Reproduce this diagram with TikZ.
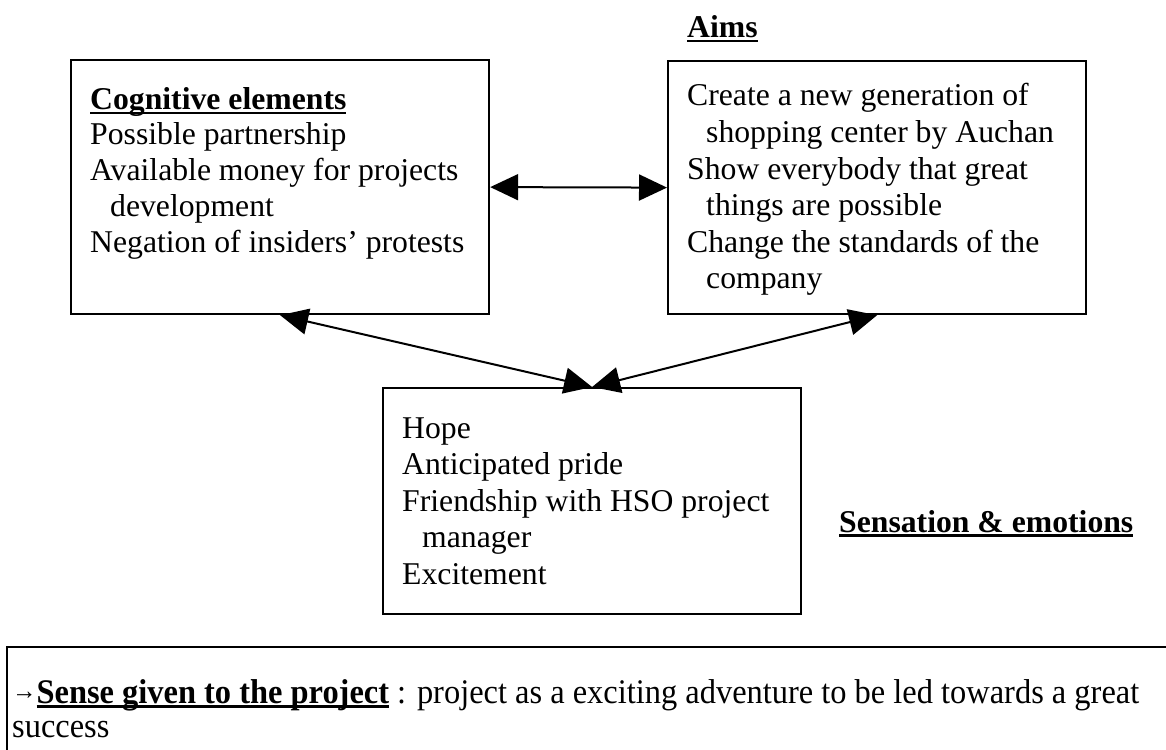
\documentclass[tikz,border=0pt]{standalone}
\usepackage{fontspec}
\setmainfont{Liberation Serif}
\newfontfamily\condserif{Liberation Serif}[FakeStretch=0.94]
\usetikzlibrary{arrows.meta}
\newcommand{\myul}[1]{\setbox0\hbox{#1}\rlap{\rule[-4.5pt]{\wd0}{2.2pt}}\box0\relax}
\begin{document}
\begin{tikzpicture}[x=1pt,y=-1pt,
  txt/.style={anchor=base west, inner sep=0pt, font=\fontsize{31.7}{36.5}\selectfont},
  btxt/.style={anchor=base west, inner sep=0pt, font=\condserif\fontsize{34.5}{36}\selectfont},
  boxst/.style={draw, line width=2.2pt, inner sep=0pt, anchor=north west},
  arr/.style={line width=2pt, {Triangle[length=28pt,width=26pt]}-{Triangle[length=28pt,width=26pt]}}]
\useasboundingbox (0,0) rectangle (1166,749);
\clip (0,0) rectangle (1166,749);
% boxes
\node[boxst, minimum width=418pt, minimum height=254pt] (b1) at (70,59) {};
\node[boxst, minimum width=418pt, minimum height=253pt] (b2) at (667,60) {};
\node[boxst, minimum width=418pt, minimum height=226pt] (b3) at (382,387) {};
\node[boxst, minimum width=1200pt, minimum height=160pt] (b4) at (6,646) {};
% box 1 text
\node[txt] (c0) at (90,110) {\myul{\textbf{Cognitive elements}}};
\node[txt] (c1) at (90,144) {Possible partnership};
\node[txt] (c2) at (90,180) {Available money for projects};
\node[txt] (c3) at (110,216) {development};
\node[txt] (c4) at (90,252) {Negation of insiders’ protests};
% aims
\node[txt] (a0) at (687,38) {\myul{\textbf{Aims}}};
\node[txt] (a1) at (687,106) {Create a new generation of};
\node[txt] (a2) at (706,142.5) {shopping center by Auchan};
\node[txt] (a3) at (687,179) {Show everybody that great};
\node[txt] (a4) at (706,215.5) {things are possible};
\node[txt] (a5) at (687,252) {Change the standards of the};
\node[txt] (a6) at (706,288.5) {company};
% box 3 text
\node[txt] (e1) at (402,438) {Hope};
\node[txt] (e2) at (402,474.5) {Anticipated pride};
\node[txt] (e3) at (402,511) {Friendship with HSO project};
\node[txt] (e4) at (422,547.5) {manager};
\node[txt] (e5) at (402,584) {Excitement};
\node[txt] (e0) at (839,532) {\myul{\textbf{Sensation \& emotions}}};
% bottom text
\node[btxt] (s1) at (12,703) {\raisebox{4pt}{\fontsize{26}{26}\selectfont\bfseries →}\myul{\textbf{Sense given to the project}} : project as a exciting adventure to be led towards a great};
\node[btxt] (s2) at (12,737) {success};
% arrows
\draw[arr] (b1.east) -- (b2.west);
\draw[arr] (b1.south) -- (b3.north);
\draw[arr] (b2.south) -- (b3.north);
\end{tikzpicture}
\end{document}
